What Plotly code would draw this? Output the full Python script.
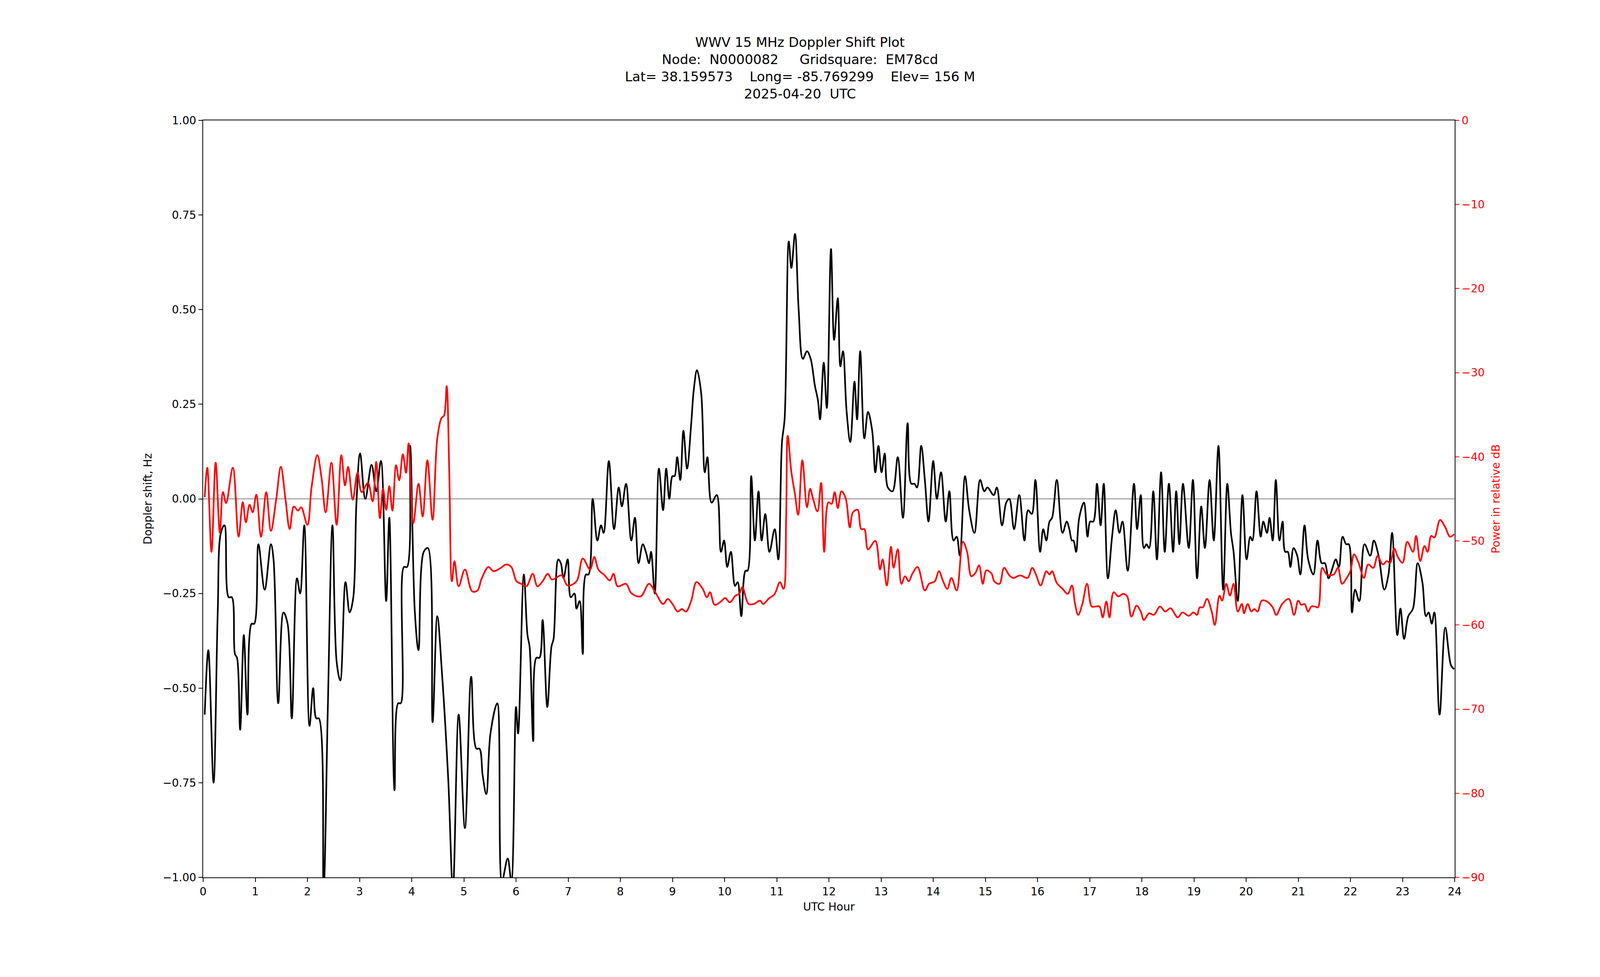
import plotly.graph_objects as go

# ~~~ DATA ~~~
# Doppler shift, Hz (black trace)
dop_hour = [0.03, 0.10, 0.20, 0.28, 0.34, 0.41, 0.49, 0.55, 0.61, 0.65, 0.71, 0.78, 0.85, 0.93, 0.98,
            1.06, 1.18, 1.30, 1.35, 1.44, 1.54, 1.62, 1.70, 1.80, 1.86, 1.94, 2.04, 2.11, 2.17, 2.22,
            2.31, 2.39, 2.48, 2.56, 2.63, 2.73, 2.81, 2.88, 2.94, 3.01, 3.11, 3.23, 3.32, 3.41, 3.51,
            3.57, 3.67, 3.74, 3.79, 3.85, 3.91, 3.97, 4.06, 4.13, 4.23, 4.31, 4.40, 4.49, 4.58, 4.70,
            4.79, 4.90, 5.02, 5.14, 5.24, 5.30, 5.36, 5.43, 5.51, 5.64, 5.73, 5.84, 5.91, 6.00,
            6.04, 6.15, 6.22, 6.26, 6.33, 6.39, 6.45, 6.51, 6.60, 6.68, 6.72, 6.81, 6.86, 6.91, 6.99,
            7.05, 7.12, 7.16, 7.22, 7.28, 7.34, 7.39, 7.47, 7.56, 7.63, 7.68, 7.78, 7.88, 7.97, 8.03,
            8.11, 8.21, 8.28, 8.35, 8.43, 8.49, 8.55, 8.59, 8.66, 8.74, 8.82, 8.88, 8.94, 9.00, 9.04,
            9.09, 9.15, 9.21, 9.28, 9.36, 9.41, 9.47, 9.55, 9.62, 9.67, 9.75, 9.85, 9.93, 9.99, 10.05,
            10.12, 10.20, 10.25, 10.32, 10.40, 10.44, 10.51, 10.58, 10.65, 10.71, 10.78, 10.86, 10.96,
            11.03, 11.10, 11.15, 11.23, 11.28, 11.35, 11.42, 11.50, 11.58, 11.65, 11.73, 11.79, 11.83,
            11.90, 11.96, 12.04, 12.10, 12.17, 12.22, 12.27, 12.34, 12.41, 12.49, 12.54, 12.60, 12.68,
            12.75, 12.83, 12.89, 12.95, 13.01, 13.07, 13.13, 13.22, 13.32, 13.42, 13.51, 13.58, 13.64,
            13.69, 13.77, 13.84, 13.91, 14.00, 14.07, 14.15, 14.24, 14.31, 14.39, 14.45, 14.51, 14.61,
            14.69, 14.79, 14.90, 14.98, 15.04, 15.16, 15.22, 15.32, 15.40, 15.46, 15.55, 15.65, 15.75,
            15.82, 15.89, 15.96, 16.05, 16.11, 16.17, 16.23, 16.28, 16.37, 16.48, 16.56, 16.61, 16.66,
            16.69, 16.74, 16.80, 16.89, 16.96, 17.01, 17.07, 17.14, 17.21, 17.27, 17.35, 17.43, 17.50,
            17.57, 17.63, 17.73, 17.85, 17.91, 17.98, 18.04, 18.09, 18.14, 18.22, 18.29, 18.37, 18.44,
            18.52, 18.60, 18.66, 18.72, 18.79, 18.90, 18.98, 19.06, 19.14, 19.21, 19.30, 19.38, 19.47,
            19.56, 19.64, 19.71, 19.76, 19.84, 19.93, 20.01, 20.08, 20.12, 20.20, 20.28, 20.33, 20.40,
            20.45, 20.51, 20.57, 20.64, 20.70, 20.75, 20.80, 20.85, 20.91, 20.98, 21.04, 21.12, 21.19,
            21.29, 21.37, 21.45, 21.51, 21.58, 21.64, 21.72, 21.78, 21.85, 21.92, 21.97, 22.03, 22.09,
            22.17, 22.27, 22.38, 22.45, 22.54, 22.65, 22.73, 22.80, 22.90, 22.96, 23.03, 23.11, 23.20,
            23.29, 23.38, 23.45, 23.50, 23.56, 23.61, 23.71, 23.82, 23.93, 23.99]
dop_hz = [-0.57, -0.40, -0.75, -0.30, -0.09, -0.07, -0.26, -0.26, -0.41, -0.42, -0.61, -0.36, -0.57, -0.33, -0.33,
          -0.12, -0.24, -0.12, -0.16, -0.54, -0.30, -0.33, -0.58, -0.21, -0.25, -0.07, -0.60, -0.50, -0.58, -0.58,
          -1.03, -0.56, -0.07, -0.43, -0.48, -0.22, -0.30, -0.26, -0.01, 0.12, 0.00, 0.09, 0.02, 0.10, -0.27,
          -0.05, -0.77, -0.54, -0.54, -0.18, -0.18, 0.14, -0.30, -0.40, -0.14, -0.13, -0.59, -0.31, -0.46, -0.74,
          -1.03, -0.57, -0.87, -0.47, -0.66, -0.66, -0.73, -0.78, -0.62, -0.54, -1.01, -0.95, -1.01, -0.55,
          -0.62, -0.20, -0.36, -0.39, -0.64, -0.42, -0.42, -0.32, -0.55, -0.39, -0.37, -0.16, -0.17, -0.21, -0.16,
          -0.26, -0.25, -0.29, -0.27, -0.41, -0.20, -0.20, 0.00, -0.11, -0.07, -0.09, 0.10, -0.08, 0.03, -0.02,
          0.04, -0.11, -0.05, -0.17, -0.12, -0.14, -0.17, -0.14, -0.25, 0.08, -0.03, 0.08, 0.00, 0.06, 0.06,
          0.11, 0.05, 0.18, 0.08, 0.20, 0.29, 0.34, 0.28, 0.07, 0.11, -0.01, 0.01, -0.14, -0.11, -0.18,
          -0.14, -0.23, -0.22, -0.31, -0.19, -0.19, 0.06, -0.11, 0.02, -0.11, -0.04, -0.14, -0.08,
          -0.16, 0.15, 0.21, 0.68, 0.61, 0.70, 0.50, 0.37, 0.39, 0.37, 0.30, 0.26, 0.21,
          0.36, 0.24, 0.66, 0.42, 0.53, 0.35, 0.39, 0.23, 0.15, 0.31, 0.21, 0.39, 0.16,
          0.23, 0.18, 0.07, 0.14, 0.07, 0.12, 0.03, 0.02, 0.11, -0.05, 0.20, 0.04, 0.04,
          0.03, 0.14, 0.05, -0.06, 0.10, 0.00, 0.07, -0.06, 0.02, -0.11, -0.10, -0.15, 0.06,
          -0.03, -0.09, 0.05, 0.02, 0.03, 0.01, 0.03, -0.07, -0.01, 0.00, -0.08, 0.01, -0.11,
          -0.03, -0.04, 0.05, -0.14, -0.08, -0.11, -0.06, -0.05, 0.05, -0.09, -0.06, -0.08, -0.11,
          -0.11, -0.14, -0.05, -0.01, -0.10, -0.06, -0.06, 0.04, -0.07, 0.04, -0.21, -0.10, -0.03,
          -0.09, -0.06, -0.19, 0.04, -0.08, 0.01, -0.13, -0.12, -0.13, 0.02, -0.16, 0.07, -0.14,
          0.04, -0.14, 0.02, -0.12, 0.04, -0.13, 0.05, -0.21, -0.02, -0.13, 0.05, -0.11, 0.14,
          -0.24, 0.04, -0.09, -0.14, -0.27, 0.01, -0.16, -0.10, -0.11, 0.02, -0.10, -0.06, -0.09,
          -0.05, -0.11, 0.05, -0.11, -0.06, -0.14, -0.14, -0.18, -0.13, -0.15, -0.20, -0.07, -0.16,
          -0.20, -0.11, -0.17, -0.17, -0.21, -0.19, -0.16, -0.18, -0.10, -0.12, -0.12, -0.30, -0.24,
          -0.27, -0.12, -0.15, -0.11, -0.15, -0.24, -0.20, -0.09, -0.36, -0.29, -0.37, -0.31, -0.29,
          -0.17, -0.22, -0.31, -0.30, -0.33, -0.30, -0.57, -0.34, -0.44, -0.45]

# Received power, relative dB (red trace)
pwr_hour = [0.03, 0.08, 0.16, 0.24, 0.32, 0.38, 0.44, 0.57, 0.68, 0.76, 0.82, 0.89, 0.95, 1.02, 1.11,
            1.21, 1.30, 1.40, 1.49, 1.58, 1.66, 1.74, 1.82, 1.88, 2.00, 2.08, 2.19, 2.27, 2.35, 2.46,
            2.56, 2.65, 2.72, 2.78, 2.87, 2.96, 3.04, 3.16, 3.25, 3.32, 3.39, 3.45, 3.51, 3.57, 3.63,
            3.70, 3.76, 3.83, 3.89, 3.94, 4.03, 4.13, 4.21, 4.30, 4.40, 4.49, 4.57, 4.62, 4.67, 4.72,
            4.77, 4.82, 4.90, 5.02, 5.16, 5.26, 5.34, 5.47, 5.57, 5.71, 5.81, 5.91, 6.01,
            6.10, 6.20, 6.32, 6.41, 6.51, 6.61, 6.69, 6.87, 6.99, 7.16, 7.28, 7.42, 7.50, 7.58, 7.70,
            7.80, 7.87, 7.95, 8.11, 8.21, 8.39, 8.55, 8.67, 8.82, 8.91, 9.00, 9.10, 9.18, 9.26, 9.36,
            9.46, 9.58, 9.66, 9.72, 9.81, 9.93, 10.01, 10.10, 10.21, 10.28, 10.34, 10.46, 10.56, 10.68,
            10.74, 10.84, 10.96, 11.06, 11.13, 11.18, 11.21, 11.28, 11.35, 11.41, 11.49, 11.58, 11.64,
            11.70, 11.78, 11.85, 11.91, 11.99, 12.05, 12.11,
            12.17, 12.24, 12.32, 12.40, 12.46, 12.55, 12.62, 12.68, 12.75, 12.89, 12.98, 13.03, 13.11,
            13.19, 13.24, 13.32, 13.39, 13.46, 13.53, 13.60, 13.70, 13.84, 13.92, 14.03, 14.11, 14.19,
            14.27, 14.35, 14.45, 14.57, 14.65, 14.73, 14.81, 14.88, 14.95, 15.02, 15.12, 15.17, 15.27,
            15.36, 15.46, 15.53, 15.67, 15.81, 15.90, 15.97, 16.06, 16.17, 16.23, 16.28, 16.37, 16.48,
            16.58, 16.66, 16.72, 16.78, 16.86, 16.95, 17.04, 17.11, 17.19, 17.25, 17.32, 17.38, 17.46,
            17.55, 17.64, 17.72, 17.80, 17.90, 17.98, 18.04, 18.14,
            18.23, 18.35, 18.45, 18.55, 18.69, 18.78, 18.90, 18.99, 19.06, 19.11, 19.17, 19.25, 19.34,
            19.40, 19.49, 19.54, 19.62, 19.69, 19.76, 19.84, 19.92, 19.96, 20.03, 20.10, 20.16, 20.22,
            20.30, 20.40, 20.51, 20.58, 20.69, 20.82, 20.92, 21.00, 21.06, 21.12, 21.19, 21.25, 21.32,
            21.38, 21.46, 21.55, 21.68, 21.76, 21.84, 21.92, 22.00, 22.07, 22.15, 22.26, 22.34, 22.44,
            22.52, 22.62, 22.70, 22.76, 22.84, 22.91, 23.00, 23.09, 23.20, 23.26, 23.34, 23.42, 23.48,
            23.55, 23.61, 23.72, 23.82, 23.91, 23.99]
pwr_db = [-44.8, -41.3, -51.3, -40.7, -49.0, -44.2, -45.5, -41.3, -49.5, -45.4, -47.8, -45.7, -46.6, -44.5, -49.5,
          -44.2, -48.8, -45.1, -41.2, -45.1, -48.6, -45.9, -46.4, -46.0, -48.1, -43.6, -39.8, -42.5, -46.6, -40.7,
          -48.1, -39.8, -43.4, -41.2, -45.1, -41.9, -44.2, -43.1, -45.3, -40.6, -47.3, -43.8, -46.3, -43.5, -46.4,
          -41.0, -42.8, -39.7, -41.9, -38.4, -47.9, -43.2, -47.1, -40.4, -47.5, -37.8, -35.4, -35.1, -31.6, -41.9,
          -54.8, -52.4, -55.4, -53.4, -56.0, -55.9, -54.5, -53.1, -53.6, -53.2, -52.8, -53.1, -54.8,
          -55.1, -55.4, -53.9, -55.4, -54.8, -53.9, -54.6, -54.1, -55.3, -54.8, -52.1, -53.4, -51.9, -53.4, -54.1,
          -54.7, -53.9, -55.4, -55.1, -56.2, -56.6, -55.1, -56.1, -57.5, -56.9, -57.5, -58.4, -58.1, -58.4, -57.1,
          -54.9, -55.7, -56.7, -56.1, -57.6, -57.2, -56.8, -57.3, -56.5, -56.3, -55.5, -57.5, -57.5, -57.1,
          -57.5, -56.9, -56.3, -54.9, -55.7, -47.2, -37.5, -41.8, -44.5, -46.9, -40.4, -46.0, -43.8,
          -45.1, -46.5, -43.1, -51.3, -45.4, -45.6, -44.2,
          -46.1, -44.1, -44.9, -48.4, -46.6, -46.3, -48.6, -48.6, -51.0, -50.0, -53.4, -52.2, -55.3,
          -50.7, -53.2, -51.0, -55.1, -54.2, -54.8, -53.9, -53.1, -55.9, -55.1, -54.8, -53.6, -54.8,
          -55.7, -54.4, -55.9, -50.1, -51.3, -54.2, -53.8, -52.9, -55.1, -53.5, -53.9, -54.8, -55.1,
          -53.2, -54.1, -54.4, -54.1, -54.4, -53.2, -54.0, -55.3, -53.6, -54.0, -53.6, -55.0, -55.7,
          -56.3, -55.3, -57.5, -58.8, -57.5, -55.1, -57.8, -57.8, -57.8, -59.1, -57.2, -59.1, -56.1,
          -56.6, -56.3, -56.6, -59.0, -57.7, -58.4, -59.4, -58.6,
          -58.8, -57.8, -58.4, -58.0, -59.1, -58.5, -58.9, -58.5, -58.8, -57.9, -57.9, -56.9, -58.4,
          -60.0, -56.5, -57.1, -55.1, -56.5, -55.1, -58.4, -57.5, -58.6, -57.5, -58.4, -58.1, -58.4,
          -57.1, -57.2, -57.9, -58.8, -57.5, -56.9, -58.8, -57.1, -57.6, -57.5, -58.4, -57.8, -57.8,
          -57.9, -53.2, -54.0, -54.0, -53.2, -55.1, -54.5, -53.6, -51.6, -52.5, -54.4, -52.8, -53.2,
          -51.8, -52.8, -52.4, -52.6, -50.9, -51.9, -52.6, -50.1, -51.3, -49.4, -52.4, -50.6, -51.3,
          -49.4, -49.6, -47.5, -48.4, -49.5, -49.2]

x_ticks = list(range(0, 25))
dop_ticks = [-1.0, -0.75, -0.5, -0.25, 0.0, 0.25, 0.5, 0.75, 1.0]
pwr_ticks = [-90, -80, -70, -60, -50, -40, -30, -20, -10, 0]

title_lines = ["WWV 15 MHz Doppler Shift Plot",
               "Node:  N0000082     Gridsquare:  EM78cd",
               "Lat= 38.159573    Long= -85.769299    Elev= 156 M",
               "2025-04-20  UTC"]

FONT = "DejaVu Sans"
TICKFONT = 28

fig = go.Figure()
# zero reference line
fig.add_trace(go.Scatter(x=[0, 24], y=[0, 0], mode="lines",
                         line=dict(color="#808080", width=2.2), showlegend=False))
fig.add_trace(go.Scatter(x=dop_hour, y=dop_hz, mode="lines", line_shape="spline",
                         line=dict(color="black", width=4.2), showlegend=False))
fig.add_trace(go.Scatter(x=pwr_hour, y=pwr_db, mode="lines", line_shape="spline", yaxis="y2",
                         line=dict(color="red", width=4.2), showlegend=False))

axis_common = dict(showgrid=False, zeroline=False, ticks="outside", ticklen=10, tickwidth=2.2,
                   showline=True, linecolor="black", linewidth=2.2)

# no fixed size: the figure fills the browser window
fig.update_layout(
    autosize=True,
    paper_bgcolor="white", plot_bgcolor="white",
    margin=dict(l=512, r=364, t=300, b=247),
    font=dict(family=FONT, size=TICKFONT, color="black"),
    title=dict(text="<br>".join(title_lines), x=0.5, xanchor="center",
               y=0.955, yanchor="top", font=dict(size=34, family=FONT)),
    xaxis=dict(range=[0, 24], tickvals=x_ticks, mirror=True,
               title=dict(text="UTC Hour", font=dict(size=TICKFONT), standoff=14),
               tickcolor="black", **axis_common),
    yaxis=dict(range=[-1, 1], tickvals=dop_ticks, tickformat=".2f", tickcolor="black",
               title=dict(text="Doppler shift, Hz", font=dict(size=TICKFONT), standoff=20),
               **axis_common),
    yaxis2=dict(range=[-90, 0], tickvals=pwr_ticks, overlaying="y", side="right",
                tickcolor="red", tickfont=dict(color="red", size=TICKFONT),
                title=dict(text="Power in relative dB", font=dict(color="red", size=TICKFONT), standoff=20),
                **axis_common),
)

fig.write_html("out.html", config={"responsive": True})
